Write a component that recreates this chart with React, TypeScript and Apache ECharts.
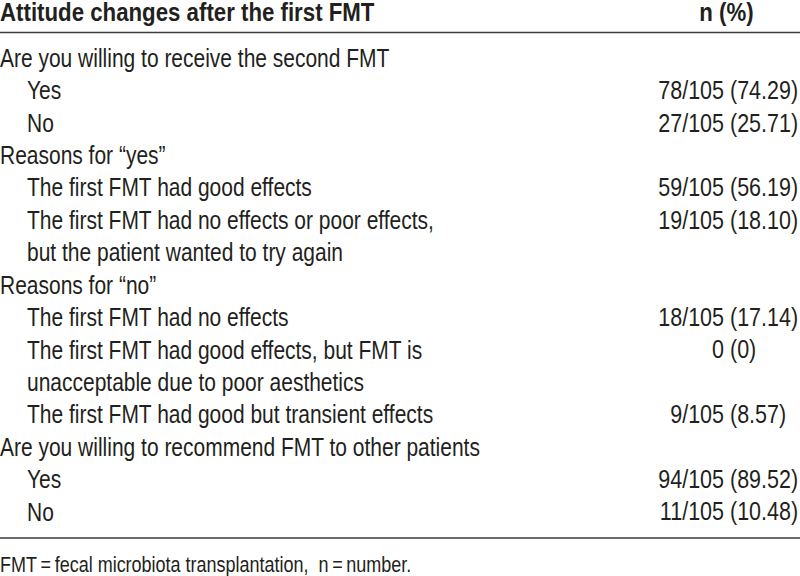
import React, { useEffect, useRef } from "react";
import * as echarts from "echarts";

const headerLeft = "Attitude changes after the first FMT";
const headerRight = "n (%)";
const rowLabels = [
  "Are you willing to receive the second FMT",
  "Yes",
  "No",
  "Reasons for \u201cyes\u201d",
  "The first FMT had good effects",
  "The first FMT had no effects or poor effects,",
  "but the patient wanted to try again",
  "Reasons for \u201cno\u201d",
  "The first FMT had no effects",
  "The first FMT had good effects, but FMT is",
  "unacceptable due to poor aesthetics",
  "The first FMT had good but transient effects",
  "Are you willing to recommend FMT to other patients",
  "Yes",
  "No",
];
const rowIndent = [0, 1, 1, 0, 1, 1, 1, 0, 1, 1, 1, 1, 0, 1, 1];
const rowCounts = ["", "78/105", "27/105", "", "59/105", "19/105", "", "", "18/105", "0", "", "9/105", "", "94/105", "11/105"];
const rowPercents = ["", "74.29", "25.71", "", "56.19", "18.10", "", "", "17.14", "0", "", "8.57", "", "89.52", "10.48"];
const footnote = "FMT\u2009=\u2009fecal microbiota transplantation,  n\u2009=\u2009number.";

const FONT = "'Liberation Sans', Arial, Helvetica, sans-serif";
const TEXT = "#231f20";
const FS = 25.6;
const SX = 0.82;
const SX_NUM = 0.84;
const INDENT = 27;
const COUNT_RIGHT = 724;
const PCT_LEFT = 730;

export default function App() {
  const ref = useRef<HTMLDivElement>(null);
  useEffect(() => {
    if (!ref.current) return;
    const chart = echarts.init(ref.current, undefined, { renderer: "svg" });
    const baseStyle = { fontFamily: FONT, fontSize: FS, fill: TEXT, verticalAlign: "middle" };
    chart.setOption({
      animation: false,
      backgroundColor: "#ffffff",
      grid: { left: 0, right: 0, top: 41.9, bottom: 48 },
      xAxis: { type: "value", min: 0, max: 800, show: false },
      yAxis: { type: "category", data: rowLabels, inverse: true, show: false },
      series: [
        {
          type: "custom",
          silent: true,
          data: rowLabels.map((_, i) => [0, i]),
          renderItem: (params: any, api: any) => {
            const i = api.value(1) as number;
            const p = api.coord([0, i]);
            const y = p[1];
            const children: any[] = [
              {
                type: "text",
                x: p[0] + rowIndent[i] * INDENT,
                y,
                scaleX: SX,
                style: { ...baseStyle, text: rowLabels[i], align: "left" },
              },
            ];
            if (rowCounts[i]) {
              const pc = api.coord([COUNT_RIGHT, i]);
              const pp = api.coord([PCT_LEFT, i]);
              children.push({
                type: "text",
                x: pc[0],
                y,
                scaleX: SX_NUM,
                style: { ...baseStyle, text: rowCounts[i], align: "right" },
              });
              children.push({
                type: "text",
                x: pp[0],
                y,
                scaleX: SX_NUM,
                style: { ...baseStyle, text: "(" + rowPercents[i] + ")", align: "left" },
              });
            }
            return { type: "group", children };
          },
        },
      ],
      graphic: [
        {
          type: "text",
          x: 0,
          y: 12.5,
          scaleX: 0.89,
          style: { ...baseStyle, fontSize: 25, lineHeight: 24, fontWeight: "bold", text: headerLeft, align: "left" },
        },
        {
          type: "text",
          x: 726.5,
          y: 12.5,
          scaleX: 0.89,
          style: { ...baseStyle, fontSize: 25, lineHeight: 24, fontWeight: "bold", text: headerRight, align: "center" },
        },
        {
          type: "line",
          shape: { x1: 0, y1: 32.5, x2: 800, y2: 32.5 },
          style: { stroke: "#3a3a3a", lineWidth: 1.6 },
        },
        {
          type: "line",
          shape: { x1: 0, y1: 538, x2: 800, y2: 538 },
          style: { stroke: "#3a3a3a", lineWidth: 1.6 },
        },
        {
          type: "text",
          x: 0,
          y: 563.9,
          scaleX: 0.8,
          style: { ...baseStyle, fontSize: 22.5, text: footnote, align: "left" },
        },
      ],
    });
    return () => chart.dispose();
  }, []);
  return (
    <div
      ref={ref}
      style={{ position: "fixed", left: 0, top: 0, width: 800, height: 576, background: "#fff" }}
    />
  );
}
